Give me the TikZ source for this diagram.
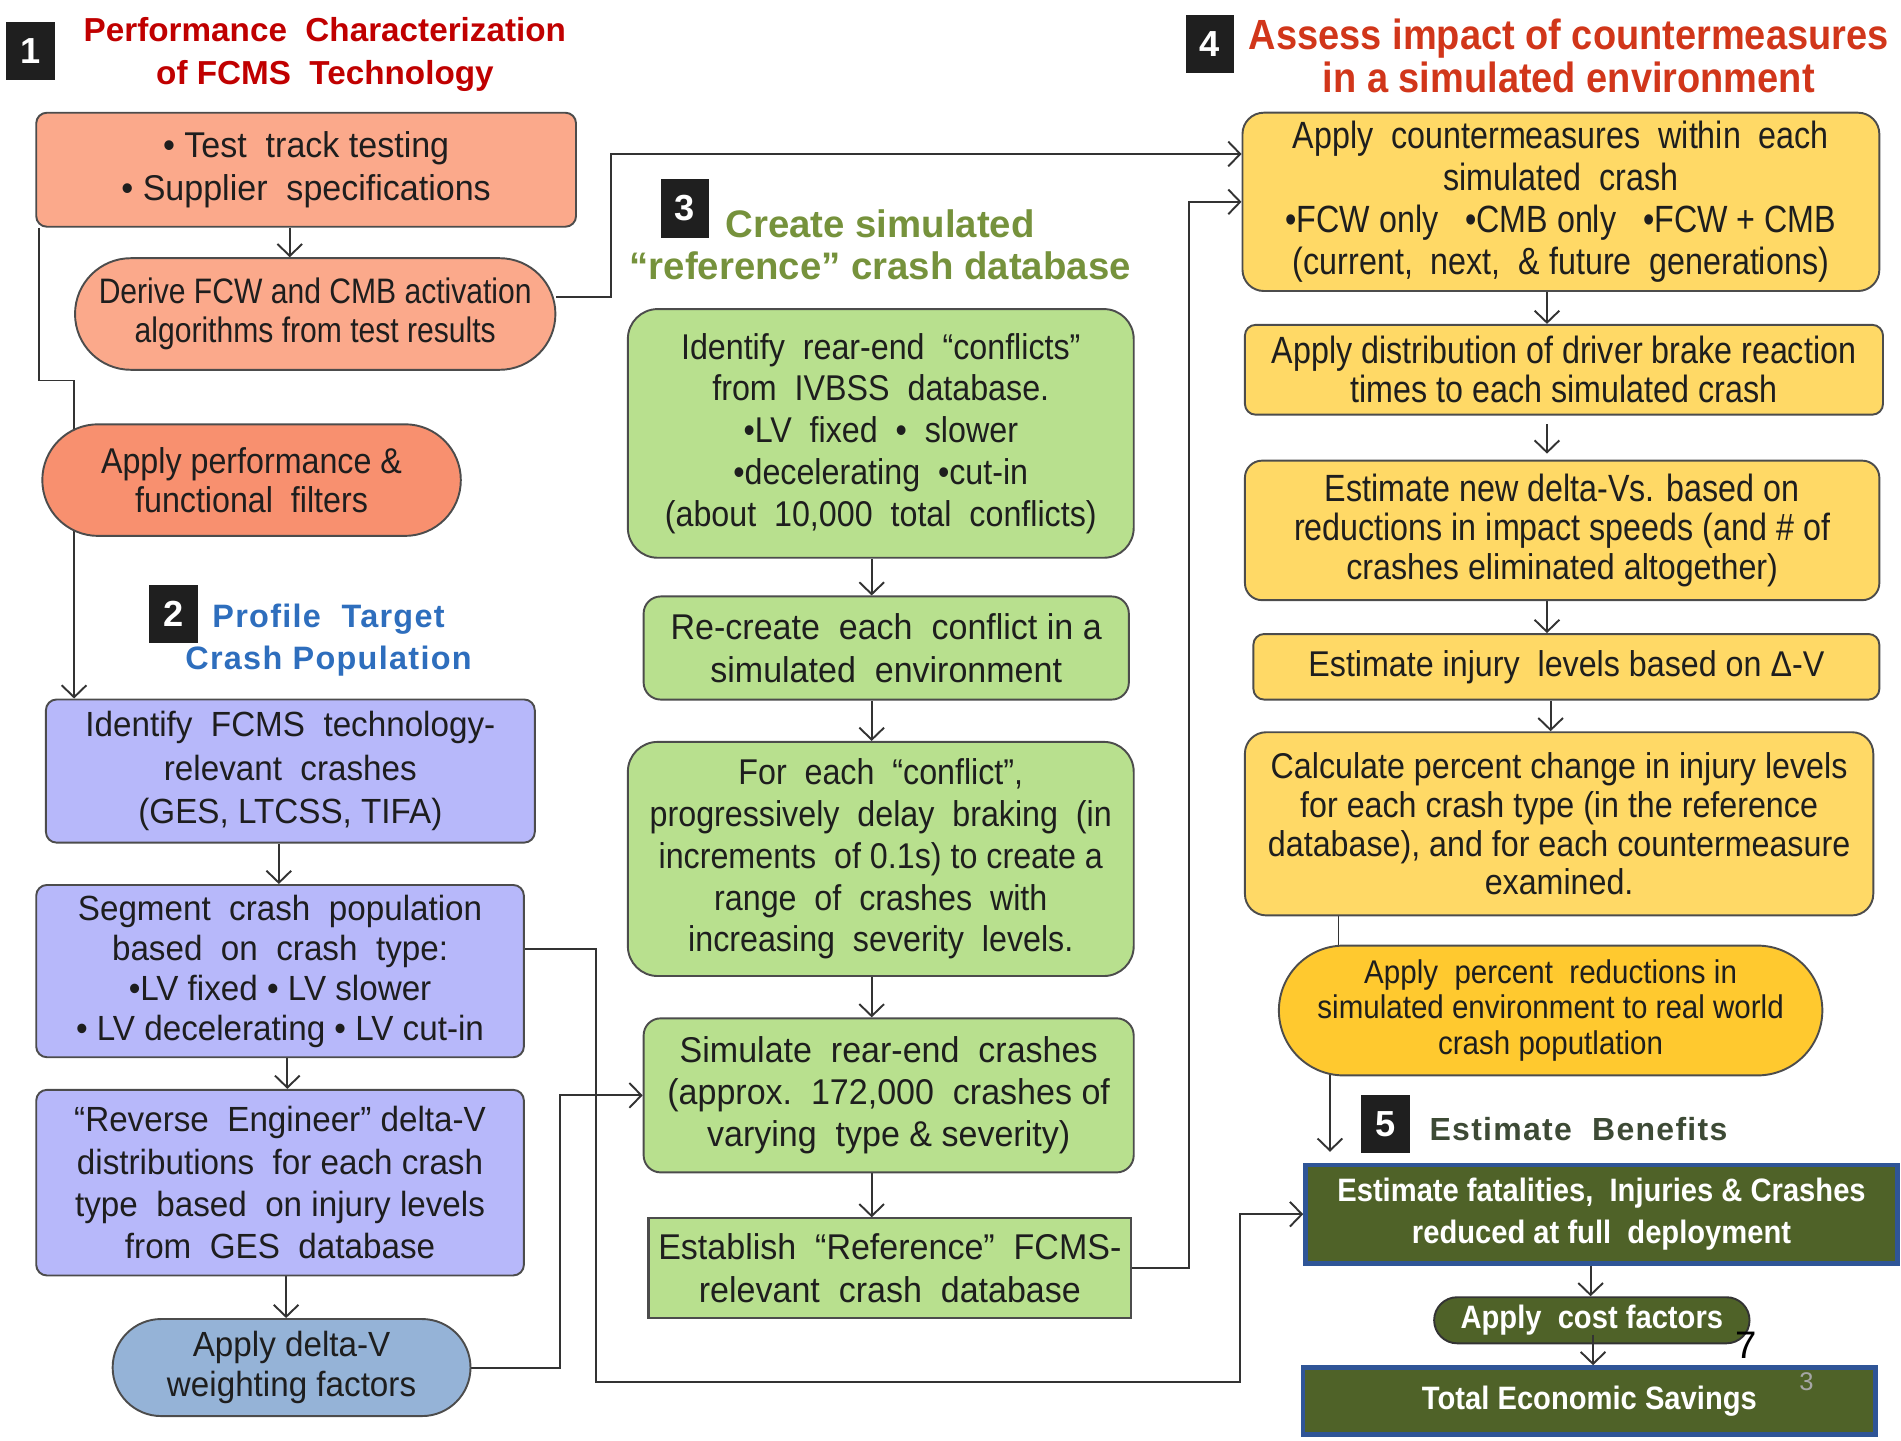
\documentclass[tikz,border=0pt]{standalone}
\usepackage{fontspec}
\setmainfont{Liberation Sans}
\newfontfamily\fa[FakeStretch=0.95]{Liberation Sans}
\newfontfamily\fb[FakeStretch=0.9]{Liberation Sans}
\newfontfamily\fc[FakeStretch=0.85]{Liberation Sans}
\newfontfamily\widef[LetterSpace=4]{Liberation Sans}
\usetikzlibrary{shapes.misc,shapes.geometric,arrows.meta,calc}
\pgfdeclarelayer{bg}
\pgfsetlayers{bg,main}
\definecolor{salA}{HTML}{FBA98B}
\definecolor{salC}{HTML}{F8906F}
\definecolor{lav}{HTML}{B7B8FA}
\definecolor{steel}{HTML}{95B3D7}
\definecolor{lgreen}{HTML}{B8E08E}
\definecolor{yel}{HTML}{FFD966}
\definecolor{gold}{HTML}{FFC92F}
\definecolor{olive}{HTML}{4F6228}
\definecolor{bord}{HTML}{2F5597}
\definecolor{hred}{HTML}{C00000}
\definecolor{hredB}{HTML}{D1361A}
\definecolor{hgreen}{HTML}{76923C}
\definecolor{hblue}{HTML}{2E6EBD}
\definecolor{hdark}{HTML}{3D4A35}
\definecolor{txt}{HTML}{1E1E1E}
\begin{document}
\begin{tikzpicture}[x=0.01cm,y=-0.01cm,
  every node/.style={inner sep=0pt, align=center, text=txt, font=\fa\fontsize{8.4}{10}\selectfont},
  box/.style={draw=black!70, line width=0.45pt, rounded corners=2.5pt},
  stad/.style={draw=black!70, line width=0.45pt, rounded rectangle},
  arr/.style={-{Straight Barb[length=2.8pt,width=5.8pt]}, line width=0.45pt, draw=black!80},
  ln/.style={line width=0.45pt, draw=black!80},
  numbox/.style={fill=black!88, text=white, font=\bfseries\fontsize{8.5}{10}\selectfont, minimum width=0.4cm, minimum height=0.48cm},
  dark/.style={fill=olive, draw=bord, line width=1.1pt, text=white, font=\fb\bfseries\fontsize{7.6}{10}\selectfont},
]
\useasboundingbox (0,0) rectangle (1568,1188);

% ---------- headers
\node[numbox] (n1) at (25,42) {1};
\node[text=hred, font=\bfseries\fontsize{7.8}{10}\selectfont] (h1) at (268,45) {Performance\ \ Characterization\\of FCMS\ \ Technology};
\node[numbox] (n2) at (143,506.5) {2};
\node[text=hblue, font=\widef\bfseries\fontsize{7.6}{10}\selectfont] (h2) at (271,528) {Profile\ \ Target\\Crash Population};
\node[numbox] (n3) at (565,172) {3};
\node[text=hgreen, font=\bfseries\fontsize{9}{10}\selectfont] (h3) at (726,202) {Create simulated\\“reference” crash database};
\node[numbox] (n4) at (998,36) {4};
\node[text=hredB, font=\fb\bfseries\fontsize{9.9}{10}\selectfont] (h4) at (1294,46) {Assess impact of countermeasures\\in a simulated environment};
\node[numbox] (n5) at (1143,927) {5};
\node[text=hdark, font=\widef\bfseries\fontsize{7.5}{10}\selectfont] (h5) at (1302,931) {Estimate\ \ Benefits};

% ---------- column 1
\node[box, fill=salA, minimum width=4.45cm, minimum height=0.94cm] (A) at (252.5,140) {• Test\ \ track testing\\• Supplier\ \ specifications};
\node[stad, fill=salA, minimum width=3.96cm, minimum height=0.92cm, font=\fc\fontsize{8.3}{9}\selectfont] (B) at (260,259) {Derive FCW and CMB activation\\algorithms from test results};
\node[stad, fill=salC, minimum width=3.45cm, minimum height=0.92cm, font=\fb\fontsize{8.4}{9.2}\selectfont] (C) at (207.5,396) {Apply performance \&\\functional\ \ filters};
\node[box, fill=lav, minimum width=4.03cm, minimum height=1.18cm, font=\fa\fontsize{8.2}{10.2}\selectfont] (D) at (239.5,636) {Identify\ \ FCMS\ \ technology-\\relevant\ \ crashes\\(GES, LTCSS, TIFA)};
\node[box, fill=lav, minimum width=4.02cm, minimum height=1.42cm, font=\fa\fontsize{8.2}{9.4}\selectfont] (SEG) at (231,801) {Segment\ \ crash\ \ population\\based\ \ on\ \ crash\ \ type:\\•LV fixed • LV slower\\• LV decelerating • LV cut-in};
\node[box, fill=lav, minimum width=4.02cm, minimum height=1.53cm, font=\fa\fontsize{8.2}{9.9}\selectfont] (F) at (231,975.5) {“Reverse\ \ Engineer” delta-V\\distributions\ \ for each crash\\type\ \ based\ \ on injury levels\\from\ \ GES\ \ database};
\node[stad, fill=steel, minimum width=2.95cm, minimum height=0.80cm, font=\fa\fontsize{8.2}{9.2}\selectfont] (G) at (240.5,1128) {Apply delta-V\\weighting factors};

% ---------- column 2
\node[box, rounded corners=7pt, fill=lgreen, minimum width=4.17cm, minimum height=2.05cm, font=\fb\fontsize{8.4}{9.8}\selectfont] (H) at (726.5,357.5) {Identify\ \ rear-end\ \ “conflicts”\\from\ \ IVBSS\ \ database.\\•LV\ \ fixed\ \ •\ \ slower\\•decelerating\ \ •cut-in\\(about\ \ 10,000\ \ total\ \ conflicts)};
\node[box, rounded corners=4pt, fill=lgreen, minimum width=4.00cm, minimum height=0.85cm, font=\fa\fontsize{8.4}{10}\selectfont] (I) at (731,534.5) {Re-create\ \ each\ \ conflict in a\\simulated\ \ environment};
\node[box, rounded corners=7pt, fill=lgreen, minimum width=4.17cm, minimum height=1.93cm, font=\fb\fontsize{8.4}{9.8}\selectfont] (K) at (726.5,708.5) {For\ \ each\ \ “conflict”,\\progressively\ \ delay\ \ braking\ \ (in\\increments\ \ of 0.1s) to create a\\range\ \ of\ \ crashes\ \ with\\increasing\ \ severity\ \ levels.};
\node[box, rounded corners=4pt, fill=lgreen, minimum width=4.04cm, minimum height=1.27cm, font=\fa\fontsize{8.4}{9.8}\selectfont] (J) at (733,903.5) {Simulate\ \ rear-end\ \ crashes\\(approx.\ \ 172,000\ \ crashes of\\varying\ \ type \& severity)};
\node[draw=black!70, line width=0.5pt, fill=lgreen, minimum width=3.98cm, minimum height=0.82cm, font=\fa\fontsize{8.4}{10}\selectfont] (L) at (734,1046) {Establish\ \ “Reference”\ \ FCMS-\\relevant\ \ crash\ \ database};

% ---------- column 3
\node[box, rounded corners=5pt, fill=yel, minimum width=5.25cm, minimum height=1.47cm, font=\fc\fontsize{8.9}{9.9}\selectfont] (E) at (1287.5,166.5) {Apply\ \ countermeasures\ \ within\ \ each\\simulated\ \ crash\\•FCW only\ \ \ •CMB only\ \ \ •FCW + CMB\\(current,\ \ next,\ \ \& future\ \ generations)};
\node[box, fill=yel, minimum width=5.26cm, minimum height=0.74cm, font=\fc\fontsize{8.9}{9.1}\selectfont] (M) at (1290,305) {Apply distribution of driver brake reaction\\times to each simulated crash};
\node[box, rounded corners=4pt, fill=yel, minimum width=5.23cm, minimum height=1.15cm, font=\fc\fontsize{8.9}{9.1}\selectfont] (N) at (1288.5,437.5) {Estimate new delta-Vs. based on\\reductions in impact speeds (and \# of\\{\fb\fontsize{8.4}{9.1}\selectfont crashes eliminated altogether)}};
\node[box, fill=yel, minimum width=5.16cm, minimum height=0.54cm, font=\fb\fontsize{8.4}{10}\selectfont] (O) at (1292,550) {Estimate injury\ \ levels based on Δ-V};
\node[box, rounded corners=5pt, fill=yel, minimum width=5.18cm, minimum height=1.51cm, font=\fb\fontsize{8.4}{9.1}\selectfont] (P) at (1286,679.5) {Calculate percent change in injury levels\\for each crash type (in the reference\\database), and for each countermeasure\\examined.};
\node[stad, fill=gold, minimum width=4.48cm, minimum height=1.07cm, font=\fb\fontsize{7.7}{8.3}\selectfont] (Q) at (1279,833.5) {Apply\ \ percent\ \ reductions in\\simulated environment to real world\\crash poputlation};
\node[dark, minimum width=4.88cm, minimum height=0.81cm] (R) at (1321,1001.5) {Estimate fatalities,\ \ Injuries \& Crashes\\reduced at full\ \ deployment};
\node[stad, fill=olive, draw=black!80, text=white, font=\fb\bfseries\fontsize{7.6}{10}\selectfont, minimum width=2.60cm, minimum height=0.38cm] (S) at (1313,1089) {Apply\ \ cost factors};
\node[dark, minimum width=4.72cm, minimum height=0.55cm] (T) at (1311,1155.5) {Total Economic Savings};
\node[font=\fontsize{9}{10}\selectfont, text=black] (seven) at (1440,1110) {7};
\node[font=\fontsize{6}{7}\selectfont, text=black!35] (three) at (1490,1140) {3};

% ---------- connectors
\begin{pgfonlayer}{bg}
\draw[arr] ($(A.south)+(-13.5,0)$) -- ($(B.north)+(-21,0)$);
\draw[arr] ($(B.east)+(0,-14)$) -- ++(45,0) |- ($(E.west)+(0,-39.5)$);
\draw[arr] ($(A.south west)+(3,0)$) -- ++(0,126) -| ($(D.north west)+(24,0)$);
\draw[arr] ($(D.south)+(-9.5,0)$) -- ($(SEG.north)+(-1,0)$);
\draw[arr] ($(SEG.south)+(6,0)$) -- ($(F.north)+(6,0)$);
\draw[arr] ($(F.south)+(5,0)$) -- ($(G.north)+(-4.5,0)$);
\draw[arr] ($(SEG.east)+(0,-18)$) -- ++(59,0) -- ++(0,357) -| ($(R.west)+(-52,0)$) -- (R.west);
\draw[arr] (G.east) -- ++(73,0) |- (J.west);
\draw[arr] ($(H.south)+(-7.5,0)$) -- ($(I.north)+(-12,0)$);
\draw[arr] ($(I.south)+(-12,0)$) -- ($(K.north)+(-7.5,0)$);
\draw[arr] ($(K.south)+(-7.5,0)$) -- ($(J.north)+(-14,0)$);
\draw[arr] ($(J.south)+(-14,0)$) -- ($(L.north)+(-15,0)$);
\draw[arr] (L.east) -- ++(47,0) |- (E.west);
\draw[arr] ($(E.south)+(-11.5,0)$) -- ($(M.north)+(-14,0)$);
\draw[arr, shorten <=0.07cm, shorten >=0.05cm] ($(M.south)+(-14,0)$) -- ($(N.north)+(-12.5,0)$);
\draw[arr] ($(N.south)+(-12.5,0)$) -- ($(O.north)+(-16,0)$);
\draw[arr] ($(O.south)+(-13,0)$) -- ($(P.north)+(-7,0)$);
\draw[ln] ($(P.south)+(-182,0)$) -- ($(Q.north)+(-175,2)$);
\draw[arr] ($(Q.south)+(-182,-3)$) -- ($(R.north)+(-224,-9)$);
\draw[arr] ($(R.south)+(-9,0)$) -- ($(S.north)+(-1,0)$);
\end{pgfonlayer}
\draw[arr] ($(S.south)+(1,-8)$) -- ($(T.north)+(3,0)$);
\end{tikzpicture}
\end{document}
